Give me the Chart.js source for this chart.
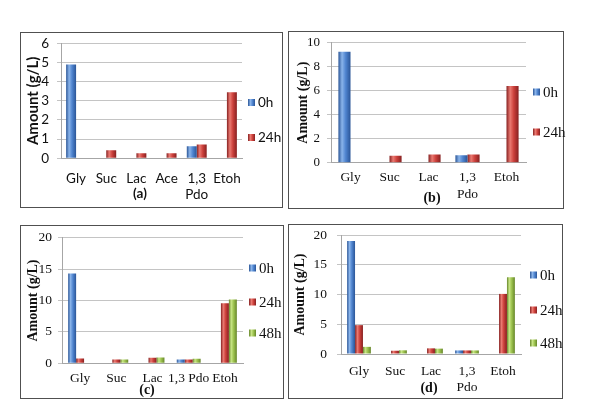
<!DOCTYPE html>
<html><head><meta charset="utf-8">
<script src="https://cdn.jsdelivr.net/npm/chart.js@4.4.1/dist/chart.umd.min.js"></script>
<style>
html,body{margin:0;padding:0;background:#fff;width:600px;height:409px;overflow:hidden;position:relative}
.box{position:absolute;border:1px solid #505050;box-sizing:border-box;background:#fff}
canvas{position:absolute}
.leg{position:absolute;display:flex;align-items:center;white-space:nowrap;color:#111;transform:translateY(-50%)}
.sw{display:inline-block;width:7px;height:7px;margin-right:3px}
.sub{position:absolute;font-weight:bold;transform:translate(-50%,-50%);white-space:nowrap;color:#111}
</style></head><body>
<script>
// ---- data ----
const seriesNames = ['0h', '24h', '48h'];

const catsA = ['Gly', 'Suc', 'Lac', 'Ace', ['1,3', 'Pdo'], 'Etoh'];
const a0h  = [4.9, null, null, null, 0.63, null];
const a24h = [null, 0.42, 0.26, 0.26, 0.72, 3.45];
const yTicksA = [0, 1, 2, 3, 4, 5, 6];

const catsB = ['Gly', 'Suc', 'Lac', ['1,3', 'Pdo'], 'Etoh'];
const b0h  = [9.25, null, null, 0.62, null];
const b24h = [null, 0.58, 0.68, 0.68, 6.4];
const yTicksB = [0, 2, 4, 6, 8, 10];

const catsC = ['Gly', 'Suc', 'Lac', '1,3 Pdo', 'Etoh'];
const c0h  = [14.3, null, null, 0.6, null];
const c24h = [0.75, 0.6, 0.9, 0.6, 9.55];
const c48h = [null, 0.62, 0.92, 0.72, 10.15];
const yTicksC = [0, 5, 10, 15, 20];

const catsD = ['Gly', 'Suc', 'Lac', ['1,3', 'Pdo'], 'Etoh'];
const d0h  = [19.0, null, null, 0.6, null];
const d24h = [4.85, 0.55, 0.95, 0.6, 10.1];
const d48h = [1.2, 0.62, 0.9, 0.6, 12.9];
const yTicksD = [0, 5, 10, 15, 20];

const subLabels = ['(a)', '(b)', '(c)', '(d)'];
const yTitle = 'Amount (g/L)';

// ---- styles ----
const COLORS = [
  {edge:'#2a5597', light:'#8ab4ea', mid:'#4f84cf'},
  {edge:'#862020', light:'#ea7a72', mid:'#cc403b'},
  {edge:'#66862a', light:'#c8e585', mid:'#9cc24e'}
];
const SANS = 'Lato, "Liberation Sans", sans-serif';
const SERIF = '"Liberation Serif", "Times New Roman", serif';

const grad3d = {
  id: 'grad3d',
  beforeDatasetDraw(chart, args) {
    const ctx = chart.ctx;
    const c = COLORS[args.index];
    args.meta.data.forEach(el => {
      const p = el.getProps(['x', 'width'], true);
      if (!p.width) return;
      const g = ctx.createLinearGradient(p.x - p.width / 2, 0, p.x + p.width / 2, 0);
      g.addColorStop(0, c.edge);
      g.addColorStop(0.3, c.light);
      g.addColorStop(0.6, c.mid);
      g.addColorStop(1, c.edge);
      el.options = Object.assign({}, el.options, {backgroundColor: g});
    });
  }
};

const panels = [
  {cats: catsA, series: [a0h, a24h], ticks: yTicksA, font: SANS, tickFs: 13.5, titleFs: 15, catFs: 13.5, legFs: 13.5,
   box: [20, 32, 282, 207], plot: [61, 43.3, 242, 158.3], titleX: 33, tickPad: 8, xPad: 12, catPct: 0.66,
   leg: {x: 248, y: [102, 137]}, sub: {x: 140, y: 193, fs: 13.5}},
  {cats: catsB, series: [b0h, b24h], ticks: yTicksB, font: SERIF, tickFs: 13, titleFs: 14, catFs: 13.5, legFs: 15,
   box: [288, 31, 563, 208], plot: [331, 42.7, 526, 162.7], titleX: 303, tickPad: 7, xPad: 7, catPct: 0.62,
   leg: {x: 533, y: [92, 132]}, sub: {x: 432, y: 198, fs: 14}},
  {cats: catsC, series: [c0h, c24h, c48h], ticks: yTicksC, font: SERIF, tickFs: 13.5, titleFs: 14, catFs: 13.5, legFs: 15,
   box: [20, 225, 283, 398], plot: [62, 237.7, 243, 363.3], titleX: 33, tickPad: 6, xPad: 7, catPct: 0.66,
   leg: {x: 249, y: [268, 302, 333]}, sub: {x: 147, y: 390, fs: 14}},
  {cats: catsD, series: [d0h, d24h, d48h], ticks: yTicksD, font: SERIF, tickFs: 13.5, titleFs: 14, catFs: 13.5, legFs: 15,
   box: [288, 224, 562, 398], plot: [341, 235, 521, 354], titleX: 300, tickPad: 10, xPad: 9.5, catPct: 0.66,
   leg: {x: 530, y: [275, 310, 343]}, sub: {x: 429, y: 388, fs: 14}}
];

function build(p, idx) {
  const box = document.createElement('div');
  box.className = 'box';
  Object.assign(box.style, {left: p.box[0] + 'px', top: p.box[1] + 'px',
    width: (p.box[2] - p.box[0] + 1) + 'px', height: (p.box[3] - p.box[1] + 1) + 'px'});
  document.body.appendChild(box);

  const cl = p.box[0] + 1, ct = p.box[1] + 1;
  const cw = p.box[2] - p.box[0] - 1, ch = p.box[3] - p.box[1] - 1;
  const cv = document.createElement('canvas');
  cv.width = cw; cv.height = ch;
  Object.assign(cv.style, {left: cl + 'px', top: ct + 'px', width: cw + 'px', height: ch + 'px'});
  document.body.appendChild(cv);

  const padLeft = p.titleX - cl - 0.6 * p.titleFs;
  const yWidth = p.plot[0] - cl - padLeft;
  const xHeight = (ct + ch) - p.plot[3];
  const padTop = p.plot[1] - ct;
  const padRight = (cl + cw) - p.plot[2];
  const tks = p.ticks;

  new Chart(cv, {
    type: 'bar',
    data: {
      labels: p.cats,
      datasets: p.series.map((s, i) => ({
        label: seriesNames[i], data: s, backgroundColor: COLORS[i].mid,
        borderWidth: 0, barPercentage: 1.0, categoryPercentage: p.catPct
      }))
    },
    options: {
      responsive: false, animation: false, devicePixelRatio: 1,
      layout: {padding: {left: padLeft, top: padTop, right: padRight, bottom: 0}},
      plugins: {legend: {display: false}, tooltip: {enabled: false}},
      scales: {
        x: {
          grid: {display: false, drawTicks: false},
          border: {display: true, color: '#a6a6a6', width: 1},
          ticks: {color: '#111', padding: p.xPad, maxRotation: 0, autoSkip: false,
                  font: {family: p.font, size: p.catFs}},
          afterFit: s => { s.height = xHeight; }
        },
        y: {
          min: tks[0], max: tks[tks.length - 1],
          grid: {color: '#c4c4c4', lineWidth: 1, drawTicks: true, tickLength: 4},
          border: {display: true, color: '#a6a6a6', width: 1},
          ticks: {color: '#111', padding: p.tickPad, autoSkip: false,
                  stepSize: tks[1] - tks[0],
                  font: {family: p.font, size: p.tickFs}},
          title: {display: true, text: yTitle, color: '#111', padding: 0,
                  font: {family: p.font, size: p.titleFs, weight: 'bold'}},
          afterFit: s => { s.width = yWidth; s.paddingTop = 0; s.paddingBottom = 0; }
        }
      }
    },
    plugins: [grad3d]
  });

  p.series.forEach((s, i) => {
    const d = document.createElement('div');
    d.className = 'leg';
    Object.assign(d.style, {left: p.leg.x + 'px', top: p.leg.y[i] + 'px',
      fontFamily: p.font, fontSize: p.legFs + 'px'});
    const sw = document.createElement('span');
    sw.className = 'sw';
    const c = COLORS[i];
    sw.style.background = `linear-gradient(to right, ${c.edge}, ${c.light} 35%, ${c.mid} 65%, ${c.edge})`;
    d.appendChild(sw);
    d.appendChild(document.createTextNode(seriesNames[i]));
    document.body.appendChild(d);
  });

  const sub = document.createElement('div');
  sub.className = 'sub';
  sub.textContent = subLabels[idx];
  Object.assign(sub.style, {left: p.sub.x + 'px', top: p.sub.y + 'px',
    fontFamily: p.font, fontSize: p.sub.fs + 'px'});
  document.body.appendChild(sub);
}

panels.forEach(build);
</script>
</body></html>
